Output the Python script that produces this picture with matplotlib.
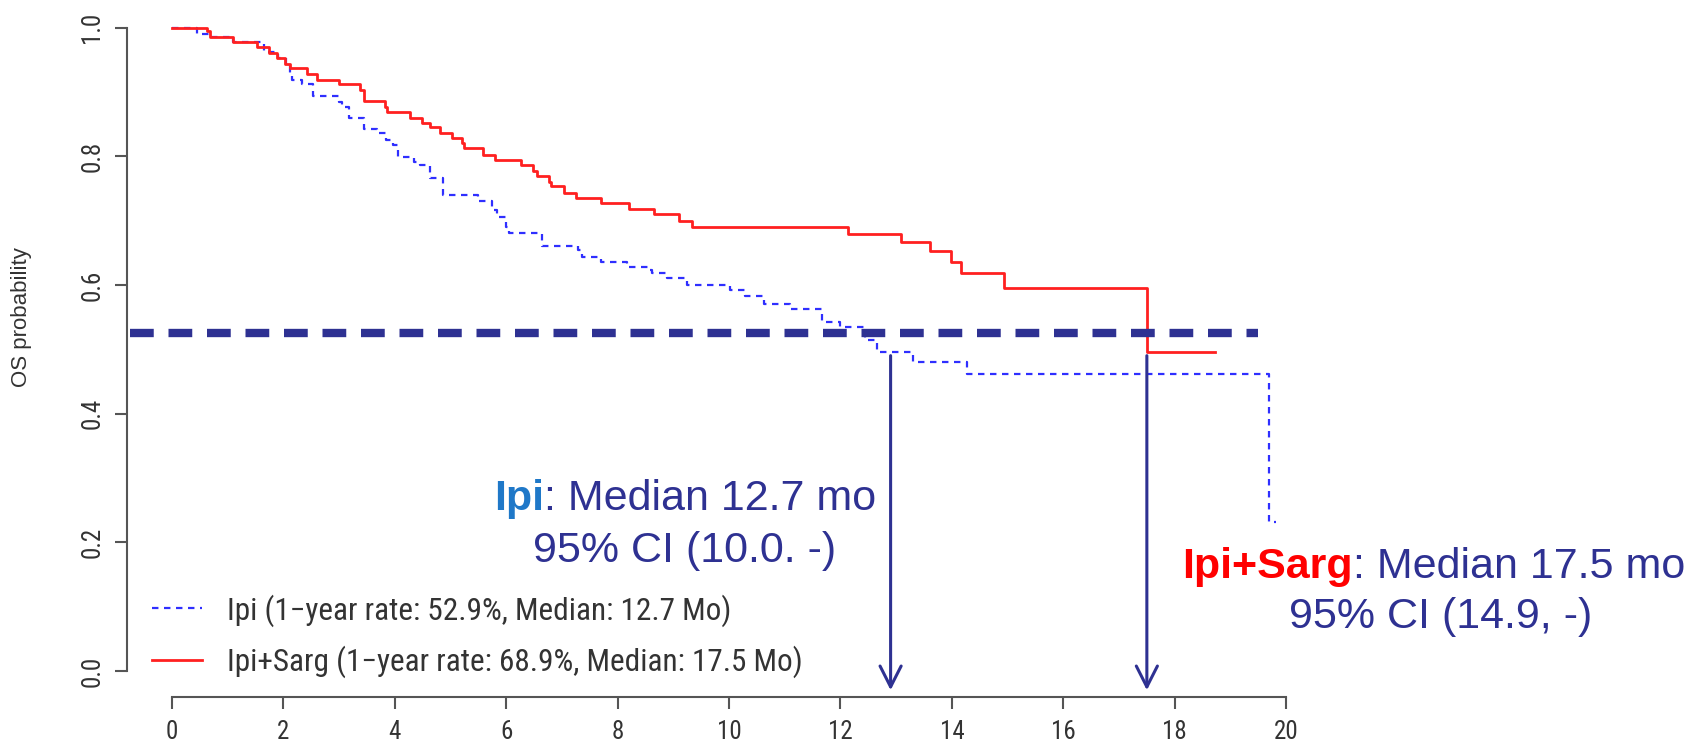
import matplotlib
matplotlib.use("Agg")
import matplotlib.pyplot as plt

plt.rcParams["font.family"] = ["Liberation Sans", "DejaVu Sans"]
narrow = ["Roboto Condensed", "DejaVu Sans"]

# Kaplan-Meier steps (months, OS probability)
sarg_time = [0, 0.62, 0.68, 1.10, 1.52, 1.75, 1.88, 2.03, 2.11, 2.42, 2.60, 2.99,
             3.38, 3.45, 3.82, 3.86, 4.27, 4.48, 4.63, 4.81, 5.02, 5.20, 5.24,
             5.59, 5.80, 6.26, 6.48, 6.55, 6.77, 6.80, 7.03, 7.25, 7.71, 8.21,
             8.65, 9.11, 9.34, 12.14, 13.08, 13.61, 13.98, 14.16, 14.94, 17.50,
             18.73]
sarg_surv = [1.0, 0.994, 0.985, 0.977, 0.969, 0.961, 0.952, 0.944, 0.937, 0.928,
             0.918, 0.912, 0.903, 0.886, 0.877, 0.869, 0.860, 0.852, 0.845, 0.836,
             0.828, 0.820, 0.812, 0.802, 0.794, 0.786, 0.777, 0.769, 0.760, 0.753,
             0.743, 0.735, 0.727, 0.718, 0.710, 0.700, 0.690, 0.679, 0.666, 0.652,
             0.635, 0.618, 0.595, 0.495, 0.495]

ipi_time = [0, 0.45, 0.68, 1.10, 1.66, 1.90, 2.05, 2.12, 2.15, 2.33, 2.54, 2.99,
            3.06, 3.17, 3.44, 3.68, 3.85, 3.97, 4.05, 4.34, 4.46, 4.63, 4.87,
            5.50, 5.74, 5.83, 6.00, 6.05, 6.65, 7.28, 7.36, 7.71, 8.16, 8.55,
            8.62, 8.88, 9.24, 10.02, 10.29, 10.62, 11.10, 11.66, 11.99, 12.44,
            12.65, 13.31, 14.28, 19.69, 19.82]
ipi_surv = [1.0, 0.990, 0.985, 0.977, 0.962, 0.952, 0.940, 0.930, 0.918, 0.912,
            0.894, 0.885, 0.877, 0.859, 0.843, 0.836, 0.825, 0.817, 0.799, 0.791,
            0.786, 0.766, 0.740, 0.731, 0.716, 0.705, 0.690, 0.680, 0.660, 0.655,
            0.644, 0.636, 0.628, 0.623, 0.618, 0.610, 0.600, 0.592, 0.583, 0.571,
            0.563, 0.543, 0.534, 0.514, 0.496, 0.480, 0.462, 0.232, 0.232]

ipi_label = "Ipi (1\u2212year rate: 52.9%, Median: 12.7 Mo)"
sarg_label = "Ipi+Sarg (1\u2212year rate: 68.9%, Median: 17.5 Mo)"

median_level = 0.525
median_line_x = [-0.75, 19.5]
arrow_x = [12.9, 17.5]
arrow_top = 0.49
arrow_tip = -0.03

xticks = list(range(0, 21, 2))
yticks = [0.0, 0.2, 0.4, 0.6, 0.8, 1.0]

navy = "#2e3192"
red = "#ff2020"
blue = "#2f2fff"

fig = plt.figure(figsize=(17.01, 7.44), dpi=100)
ax = fig.add_axes([0.0749, 0.0636, 0.7074, 0.934])
ax.set_xlim(-0.8, 20.8)
ax.set_ylim(-0.04, 1.04)

ax.step(ipi_time, ipi_surv, where="post", color=blue, lw=1.6,
        linestyle=(0, (2.9, 2.5)), label=ipi_label)
ax.step(sarg_time, sarg_surv, where="post", color=red, lw=2.0, label=sarg_label)

# median reference line and arrows
ax.plot(median_line_x, [median_level, median_level], color=navy, lw=6,
        linestyle=(0, (2.85, 1.77)), solid_capstyle="butt", dash_capstyle="butt")
for xa in arrow_x:
    ax.annotate("", xy=(xa, arrow_tip), xytext=(xa, arrow_top),
                arrowprops=dict(arrowstyle="->,head_length=0.75,head_width=0.38",
                                lw=2.2, color=navy, shrinkA=0, shrinkB=0,
                                mutation_scale=20))

# axes styling, R-like
for side in ["top", "right"]:
    ax.spines[side].set_visible(False)
ax.spines["left"].set_bounds(0, 1)
ax.spines["bottom"].set_bounds(0, 20)
for side in ["left", "bottom"]:
    ax.spines[side].set_color("#555555")
    ax.spines[side].set_linewidth(1.5)
ax.set_xticks(xticks)
ax.set_yticks(yticks)
ax.set_yticklabels([f"{v:.1f}" for v in yticks], rotation=90, va="center")
ax.tick_params(axis="both", length=8.6, width=1.5, color="#555555",
               labelcolor="#333333", labelsize=18, pad=8)
for lab in ax.get_xticklabels() + ax.get_yticklabels():
    lab.set_family(narrow)
ax.set_ylabel("OS probability", fontsize=16, color="#333333")
ax.yaxis.set_label_coords(-0.079, 0.546)

leg = ax.legend(loc="center left", bbox_to_anchor=(152 / 1701, 1 - 636 / 744),
                bbox_transform=fig.transFigure, frameon=False,
                prop={"family": narrow, "size": 22.5},
                handlelength=1.6, handletextpad=0.8, labelspacing=0.6,
                borderpad=0, borderaxespad=0)
for txt in leg.get_texts():
    txt.set_color("#333333")

# median annotations
fs = 31
t1 = ax.text(5.78, 0.250, "Ipi", color="#1f78c8", fontsize=fs, fontweight="bold",
             ha="left", va="baseline")
ax.annotate(": Median 12.7 mo", xy=(1, 0), xycoords=t1, va="bottom",
            color=navy, fontsize=fs)
ax.text(9.21, 0.169, "95% CI (10.0. -)", color=navy, fontsize=fs,
        ha="center", va="baseline")

t2 = ax.text(18.13, 0.1445, "Ipi+Sarg", color="#ff0000", fontsize=fs,
             fontweight="bold", ha="left", va="baseline", clip_on=False)
ax.annotate(": Median 17.5 mo", xy=(1, 0), xycoords=t2, va="bottom",
            color=navy, fontsize=fs, annotation_clip=False)
ax.text(22.78, 0.067, "95% CI (14.9, -)", color=navy, fontsize=fs,
        ha="center", va="baseline", clip_on=False)

fig.savefig("out.png", dpi=100)
